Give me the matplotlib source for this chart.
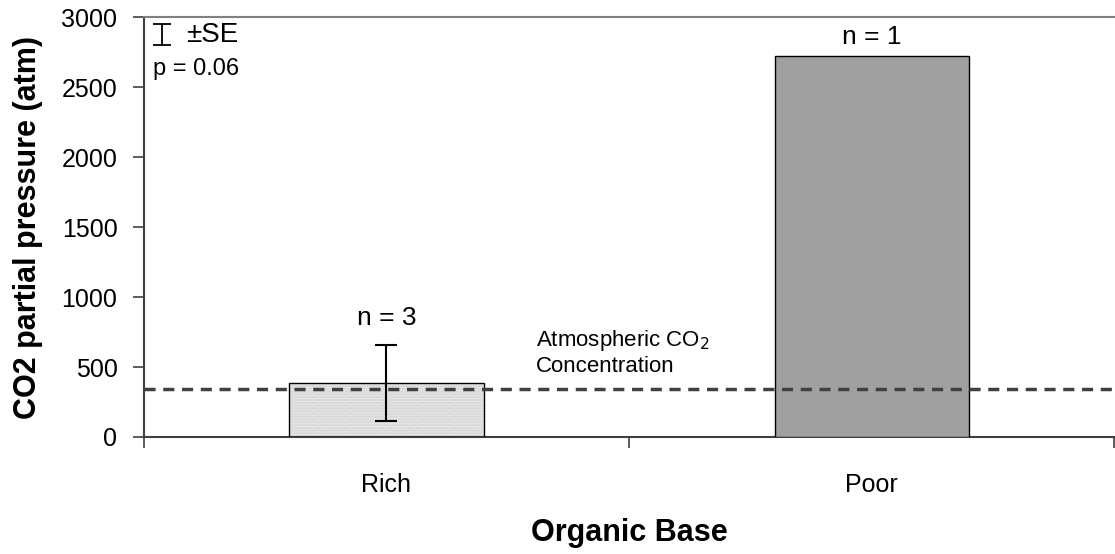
import matplotlib.pyplot as plt
from matplotlib.ticker import FixedLocator

plt.rcParams['font.family'] = ['Liberation Sans', 'DejaVu Sans']

# data
categories = ['Rich', 'Poor']
co2_mean = [385, 2720]
co2_se = [270, 0]
n_obs = [3, 1]
atmospheric_co2 = 345
p_value = 0.06

fig = plt.figure(figsize=(11.15, 5.54), dpi=100)
ax = fig.add_axes([0.129, 0.2112, 0.8705, 0.7578])

centers = [0.5, 1.5]
width = 0.4

# Rich bar: stippled light grey, Poor bar: solid grey
ax.bar(centers[0], co2_mean[0], width, color='#e6e6e6', hatch='......',
       edgecolor='#cfcfcf', linewidth=0, zorder=2)
ax.bar(centers[0], co2_mean[0], width, facecolor='none', edgecolor='black',
       linewidth=1.0, zorder=3)
ax.bar(centers[1], co2_mean[1], width, color='#a0a0a0', edgecolor='black',
       linewidth=1.0, zorder=3)

ax.errorbar(centers[0], co2_mean[0], yerr=co2_se[0], fmt='none', ecolor='black',
            elinewidth=1.5, capsize=8, capthick=1.5, zorder=5)

# atmospheric reference level
ax.axhline(atmospheric_co2, color='#404040', linestyle=(0, (3.2, 2.2)),
           linewidth=2.5, zorder=4)
ax.text(0.808, atmospheric_co2 + 85, 'Atmospheric CO$_2$\nConcentration',
        fontsize=16, ha='left', va='bottom', linespacing=1.2)

# sample sizes above bars
ax.text(centers[0], co2_mean[0] + co2_se[0] + 195, f'n = {n_obs[0]}',
        ha='center', va='center', fontsize=19)
ax.text(centers[1], co2_mean[1] + 140, f'n = {n_obs[1]}',
        ha='center', va='center', fontsize=19)

# SE legend and p-value
ax.errorbar([0.019], [0.958], yerr=[0.025], transform=ax.transAxes, fmt='none',
            ecolor='black', elinewidth=1.3, capsize=6.5, capthick=1.3, clip_on=False)
ax.text(0.044, 0.958, '±SE', transform=ax.transAxes, fontsize=20,
        ha='left', va='center')
ax.text(0.009, 0.877, f'p = {p_value}', transform=ax.transAxes, fontsize=17,
        ha='left', va='center')

ax.set_xlim(0, 2)
ax.set_ylim(0, 3000)
ax.set_yticks(range(0, 3001, 500))
ax.xaxis.set_major_locator(FixedLocator([0, 1, 2]))
ax.xaxis.set_minor_locator(FixedLocator(centers))
ax.set_xticklabels([], minor=False)
ax.set_xticklabels(categories, minor=True)
ax.tick_params(axis='x', which='major', length=8, width=1.2, color='#404040')
ax.tick_params(axis='x', which='minor', length=0, pad=26, labelsize=18)
ax.tick_params(axis='y', length=8, width=1.2, color='#404040', labelsize=18, pad=11)

ax.spines['right'].set_visible(False)
ax.spines['top'].set_color('#808080')
ax.spines['top'].set_linewidth(1.5)
ax.spines['left'].set_color('#404040')
ax.spines['left'].set_linewidth(1.5)
ax.spines['bottom'].set_color('#404040')
ax.spines['bottom'].set_linewidth(1.5)

ax.set_ylabel('CO2 partial pressure (atm)', fontsize=22, fontweight='bold', labelpad=13)
ax.set_xlabel('Organic Base', fontsize=22, fontweight='bold', labelpad=15)

fig.savefig('out.png', dpi=100)
